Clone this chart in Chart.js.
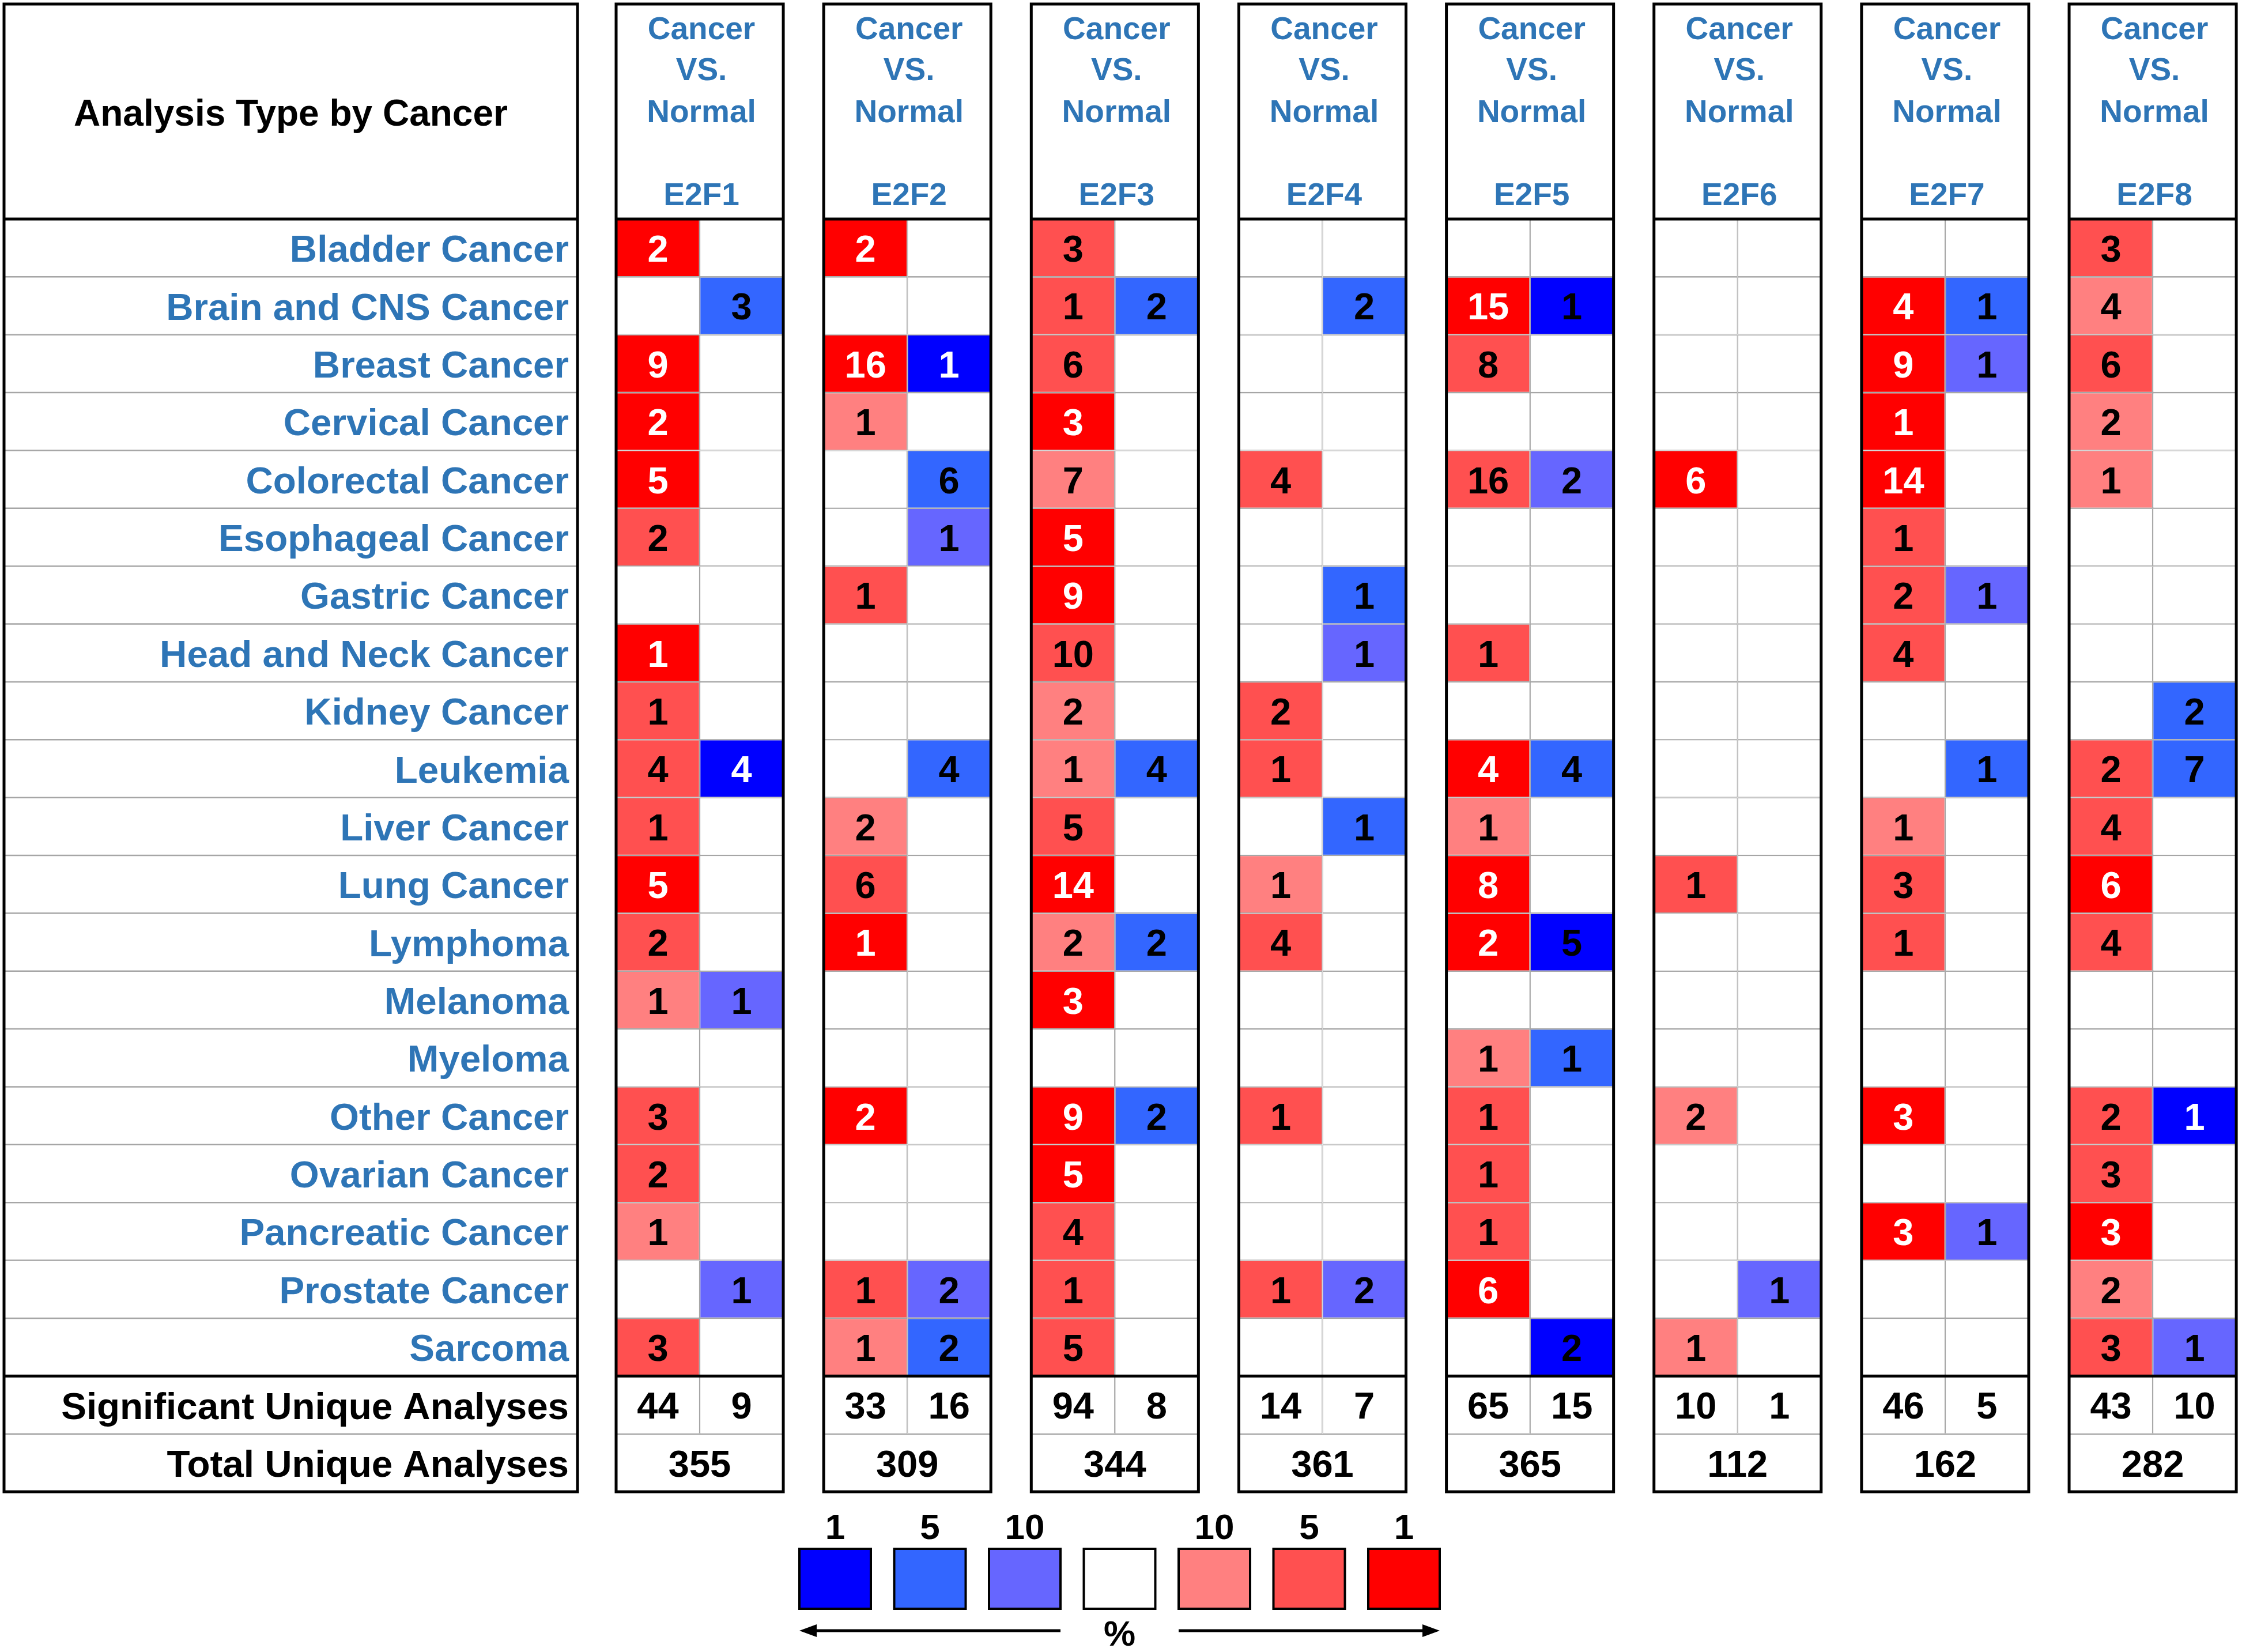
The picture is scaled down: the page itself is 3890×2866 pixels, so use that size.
<!DOCTYPE html>
<html>
<head>
<meta charset="utf-8">
<title>E2F family expression by cancer type</title>
<script src="https://cdn.jsdelivr.net/npm/chart.js@4.4.1/dist/chart.umd.min.js"></script>
<style>
    html, body { margin: 0; padding: 0; background: #fff; }
    #wrap { width: 3890px; height: 2866px; }
</style>
</head>
<body>
<div id="wrap"><canvas id="chart"></canvas></div>
<script>
// ============================================
// DATA
// ============================================

const cancers = [
    'Bladder Cancer', 'Brain and CNS Cancer', 'Breast Cancer', 'Cervical Cancer',
    'Colorectal Cancer', 'Esophageal Cancer', 'Gastric Cancer', 'Head and Neck Cancer',
    'Kidney Cancer', 'Leukemia', 'Liver Cancer', 'Lung Cancer', 'Lymphoma',
    'Melanoma', 'Myeloma', 'Other Cancer', 'Ovarian Cancer', 'Pancreatic Cancer',
    'Prostate Cancer', 'Sarcoma'
];
const summaryRows = ['Significant Unique Analyses', 'Total Unique Analyses'];

const genes = ['E2F1', 'E2F2', 'E2F3', 'E2F4', 'E2F5', 'E2F6', 'E2F7', 'E2F8'];

// number of analyses with over-expression (red column), one list per gene
const upCounts = [
    [2, 0, 9, 2, 5, 2, 0, 1, 1, 4, 1, 5, 2, 1, 0, 3, 2, 1, 0, 3],
    [2, 0, 16, 1, 0, 0, 1, 0, 0, 0, 2, 6, 1, 0, 0, 2, 0, 0, 1, 1],
    [3, 1, 6, 3, 7, 5, 9, 10, 2, 1, 5, 14, 2, 3, 0, 9, 5, 4, 1, 5],
    [0, 0, 0, 0, 4, 0, 0, 0, 2, 1, 0, 1, 4, 0, 0, 1, 0, 0, 1, 0],
    [0, 15, 8, 0, 16, 0, 0, 1, 0, 4, 1, 8, 2, 0, 1, 1, 1, 1, 6, 0],
    [0, 0, 0, 0, 6, 0, 0, 0, 0, 0, 0, 1, 0, 0, 0, 2, 0, 0, 0, 1],
    [0, 4, 9, 1, 14, 1, 2, 4, 0, 0, 1, 3, 1, 0, 0, 3, 0, 3, 0, 0],
    [3, 4, 6, 2, 1, 0, 0, 0, 0, 2, 4, 6, 4, 0, 0, 2, 3, 3, 2, 3]
];
// best gene rank percentile of those analyses (1, 5 or 10 %)
const upRank = [
    [1, 0, 1, 1, 1, 5, 0, 1, 5, 5, 5, 1, 5, 10, 0, 5, 5, 10, 0, 5],
    [1, 0, 1, 10, 0, 0, 5, 0, 0, 0, 10, 5, 1, 0, 0, 1, 0, 0, 5, 10],
    [5, 5, 5, 1, 10, 1, 1, 5, 10, 10, 5, 1, 10, 1, 0, 1, 1, 5, 5, 5],
    [0, 0, 0, 0, 5, 0, 0, 0, 5, 5, 0, 10, 5, 0, 0, 5, 0, 0, 5, 0],
    [0, 1, 5, 0, 5, 0, 0, 5, 0, 1, 10, 1, 1, 0, 10, 5, 5, 5, 1, 0],
    [0, 0, 0, 0, 1, 0, 0, 0, 0, 0, 0, 5, 0, 0, 0, 10, 0, 0, 0, 10],
    [0, 1, 1, 1, 1, 5, 5, 5, 0, 0, 10, 5, 5, 0, 0, 1, 0, 1, 0, 0],
    [5, 10, 5, 10, 10, 0, 0, 0, 0, 5, 5, 1, 5, 0, 0, 5, 5, 1, 10, 5]
];

// number of analyses with under-expression (blue column)
const downCounts = [
    [0, 3, 0, 0, 0, 0, 0, 0, 0, 4, 0, 0, 0, 1, 0, 0, 0, 0, 1, 0],
    [0, 0, 1, 0, 6, 1, 0, 0, 0, 4, 0, 0, 0, 0, 0, 0, 0, 0, 2, 2],
    [0, 2, 0, 0, 0, 0, 0, 0, 0, 4, 0, 0, 2, 0, 0, 2, 0, 0, 0, 0],
    [0, 2, 0, 0, 0, 0, 1, 1, 0, 0, 1, 0, 0, 0, 0, 0, 0, 0, 2, 0],
    [0, 1, 0, 0, 2, 0, 0, 0, 0, 4, 0, 0, 5, 0, 1, 0, 0, 0, 0, 2],
    [0, 0, 0, 0, 0, 0, 0, 0, 0, 0, 0, 0, 0, 0, 0, 0, 0, 0, 1, 0],
    [0, 1, 1, 0, 0, 0, 1, 0, 0, 1, 0, 0, 0, 0, 0, 0, 0, 1, 0, 0],
    [0, 0, 0, 0, 0, 0, 0, 0, 2, 7, 0, 0, 0, 0, 0, 1, 0, 0, 0, 1]
];
const downRank = [
    [0, 5, 0, 0, 0, 0, 0, 0, 0, 1, 0, 0, 0, 10, 0, 0, 0, 0, 10, 0],
    [0, 0, 1, 0, 5, 10, 0, 0, 0, 5, 0, 0, 0, 0, 0, 0, 0, 0, 10, 5],
    [0, 5, 0, 0, 0, 0, 0, 0, 0, 5, 0, 0, 5, 0, 0, 5, 0, 0, 0, 0],
    [0, 5, 0, 0, 0, 0, 5, 10, 0, 0, 5, 0, 0, 0, 0, 0, 0, 0, 10, 0],
    [0, 1, 0, 0, 10, 0, 0, 0, 0, 5, 0, 0, 1, 0, 5, 0, 0, 0, 0, 1],
    [0, 0, 0, 0, 0, 0, 0, 0, 0, 0, 0, 0, 0, 0, 0, 0, 0, 0, 10, 0],
    [0, 5, 10, 0, 0, 0, 10, 0, 0, 5, 0, 0, 0, 0, 0, 0, 0, 10, 0, 0],
    [0, 0, 0, 0, 0, 0, 0, 0, 5, 5, 0, 0, 0, 0, 0, 1, 0, 0, 0, 10]
];

const sigUp = [44, 33, 94, 14, 65, 10, 46, 43];
const sigDown = [9, 16, 8, 7, 15, 1, 5, 10];
const totalAnalyses = [355, 309, 344, 361, 365, 112, 162, 282];

// the one gene whose dark-blue cells carry black numbers in the figure
const blackOnDarkBlue = ['E2F5'];

const legendRanks = [1, 5, 10];

// ============================================
// STYLE
// ============================================

const FONT = '"Liberation Sans", Arial, sans-serif';
const LABEL_BLUE = '#2E75B6';
const GRID_GREY = '#A6A6A6';
const RED = { 1: '#FF0000', 5: '#FF5050', 10: '#FF8080' };
const BLUE = { 1: '#0000FF', 5: '#3366FF', 10: '#6666FF' };

const GENE_PITCH = 1.2417;   // distance between gene boxes, in box widths
const X_MIN = -0.231;
const X_MAX = (genes.length - 1) * GENE_PITCH + 1.01;
const TEXT_DROP = 6;         // the figure's numbers sit a little below the row centre

const rowLabels = cancers.concat(summaryRows);

// ============================================
// BUILD BAR DATA
// ============================================

const cellData = [];
const summaryData = [];

genes.forEach((gene, g) => {
    const x0 = g * GENE_PITCH;
    cancers.forEach((row, r) => {
        cellData.push({ x: [x0, x0 + 0.5], y: row, n: upCounts[g][r], rank: upRank[g][r], dir: 'up', gene });
        cellData.push({ x: [x0 + 0.5, x0 + 1], y: row, n: downCounts[g][r], rank: downRank[g][r], dir: 'down', gene });
    });
    summaryData.push({ x: [x0, x0 + 0.5], y: summaryRows[0], n: sigUp[g] });
    summaryData.push({ x: [x0 + 0.5, x0 + 1], y: summaryRows[0], n: sigDown[g] });
    summaryData.push({ x: [x0, x0 + 1], y: summaryRows[1], n: totalAnalyses[g] });
});

function cellColour(raw) {
    if (!raw || !raw.n || !raw.rank) return '#FFFFFF';
    return raw.dir === 'up' ? RED[raw.rank] : BLUE[raw.rank];
}

function textColour(raw) {
    if (raw.rank === 1) {
        if (raw.dir === 'down' && blackOnDarkBlue.includes(raw.gene)) return '#000000';
        return '#FFFFFF';
    }
    return '#000000';
}

// ============================================
// PLUGINS
// ============================================

const cellText = {
    id: 'cellText',
    afterDatasetsDraw(chart) {
        const ctx = chart.ctx;
        ctx.save();
        ctx.font = `bold 65px ${FONT}`;
        ctx.textAlign = 'center';
        ctx.textBaseline = 'middle';
        chart.data.datasets.forEach((ds, i) => {
            chart.getDatasetMeta(i).data.forEach((el, j) => {
                const raw = ds.data[j];
                if (!raw.n) return;
                const p = el.getCenterPoint();
                ctx.fillStyle = textColour(raw);
                ctx.fillText(String(raw.n), p.x, p.y + TEXT_DROP);
            });
        });
        ctx.restore();
    }
};

function line(ctx, x1, y1, x2, y2) {
    ctx.beginPath();
    ctx.moveTo(x1, y1);
    ctx.lineTo(x2, y2);
    ctx.stroke();
}

const frames = {
    id: 'frames',
    afterDraw(chart) {
        const ctx = chart.ctx;
        const xs = chart.scales.x;
        const ys = chart.scales.y;
        const area = chart.chartArea;
        const band = (ys.bottom - ys.top) / rowLabels.length;
        const top = 7;
        const sigTop = ys.top + cancers.length * band;

        ctx.save();

        // left label box
        ctx.strokeStyle = GRID_GREY;
        ctx.lineWidth = 2.5;
        for (let k = 1; k < rowLabels.length; k++) {
            if (k === cancers.length) continue;
            line(ctx, 7, ys.top + k * band, area.left, ys.top + k * band);
        }
        ctx.strokeStyle = '#000';
        ctx.lineWidth = 5;
        ctx.strokeRect(7, top, area.left - 7, ys.bottom - top);
        line(ctx, 7, ys.top, area.left, ys.top);
        line(ctx, 7, sigTop, area.left, sigTop);

        ctx.fillStyle = '#000';
        ctx.font = `bold 64px ${FONT}`;
        ctx.textAlign = 'center';
        ctx.textBaseline = 'middle';
        ctx.fillText('Analysis Type by Cancer', (7 + area.left) / 2, 200);

        // gene boxes
        genes.forEach((gene, g) => {
            const gx0 = xs.getPixelForValue(g * GENE_PITCH);
            const gx1 = xs.getPixelForValue(g * GENE_PITCH + 1);
            const cx = (gx0 + gx1) / 2;

            ctx.strokeStyle = '#000';
            ctx.lineWidth = 5;
            ctx.strokeRect(gx0, top, gx1 - gx0, ys.bottom - top);
            line(ctx, gx0, ys.top, gx1, ys.top);
            line(ctx, gx0, sigTop, gx1, sigTop);

            ctx.fillStyle = LABEL_BLUE;
            ctx.font = `bold 55px ${FONT}`;
            ctx.fillText('Cancer', cx + 3, 53);
            ctx.fillText('VS.', cx + 3, 124);
            ctx.fillText('Normal', cx + 3, 197);
            ctx.fillText(gene, cx + 3, 341);
        });

        // colour key
        const keyColours = [BLUE[1], BLUE[5], BLUE[10], '#FFFFFF', RED[10], RED[5], RED[1]];
        const keyLabels = legendRanks.map(String).concat([''], legendRanks.slice().reverse().map(String));
        const boxW = 124, boxH = 104, pitch = 164.5, kx0 = 1387, ky = 2687;
        ctx.lineWidth = 4;
        ctx.font = `bold 62px ${FONT}`;
        keyColours.forEach((c, i) => {
            const bx = kx0 + i * pitch;
            ctx.fillStyle = c;
            ctx.fillRect(bx, ky, boxW, boxH);
            ctx.strokeStyle = '#000';
            ctx.strokeRect(bx, ky, boxW, boxH);
            ctx.fillStyle = '#000';
            ctx.fillText(keyLabels[i], bx + boxW / 2, 2653);
        });

        // arrows under the key
        const ay = 2829;
        const leftEnd = kx0 + 2 * pitch + boxW;
        const rightStart = kx0 + 4 * pitch;
        const rightEnd = kx0 + 6 * pitch + boxW;
        ctx.lineWidth = 5;
        line(ctx, leftEnd, ay, kx0 + 12, ay);
        line(ctx, rightStart, ay, rightEnd - 12, ay);
        ctx.fillStyle = '#000';
        ctx.beginPath();
        ctx.moveTo(kx0, ay);
        ctx.lineTo(kx0 + 30, ay - 11);
        ctx.lineTo(kx0 + 30, ay + 11);
        ctx.closePath();
        ctx.fill();
        ctx.beginPath();
        ctx.moveTo(rightEnd, ay);
        ctx.lineTo(rightEnd - 30, ay - 11);
        ctx.lineTo(rightEnd - 30, ay + 11);
        ctx.closePath();
        ctx.fill();
        ctx.font = `bold 62px ${FONT}`;
        ctx.fillText('%', kx0 + 3 * pitch + boxW / 2, 2838);

        ctx.restore();
    }
};

// ============================================
// CHART
// ============================================

const barStyle = {
    backgroundColor: (c) => cellColour(c.raw),
    borderColor: GRID_GREY,
    borderWidth: 1.3,
    borderSkipped: false,
    inflateAmount: 0,
    barPercentage: 1,
    categoryPercentage: 1,
    grouped: false
};

new Chart(document.getElementById('chart'), {
    type: 'bar',
    data: {
        labels: rowLabels,
        datasets: [
            Object.assign({ label: 'Cancer vs. Normal', data: cellData }, barStyle),
            Object.assign({ label: 'Analyses', data: summaryData }, barStyle)
        ]
    },
    options: {
        indexAxis: 'y',
        responsive: true,
        maintainAspectRatio: false,
        devicePixelRatio: 1,
        animation: false,
        layout: { padding: { left: 7, top: 380, right: 7, bottom: 278 } },
        plugins: {
            legend: { display: false },
            tooltip: { enabled: false }
        },
        scales: {
            x: {
                type: 'linear',
                min: X_MIN,
                max: X_MAX,
                display: false
            },
            y: {
                type: 'category',
                offset: true,
                grid: { display: false, drawTicks: false },
                border: { display: false },
                ticks: {
                    padding: 15,
                    autoSkip: false,
                    labelOffset: TEXT_DROP,
                    color: (c) => (c.index < cancers.length ? LABEL_BLUE : '#000000'),
                    font: { family: FONT, size: 65.5, weight: 'bold' }
                },
                afterFit(scale) {
                    scale.width = 995;
                }
            }
        }
    },
    plugins: [cellText, frames]
});
</script>
</body>
</html>
